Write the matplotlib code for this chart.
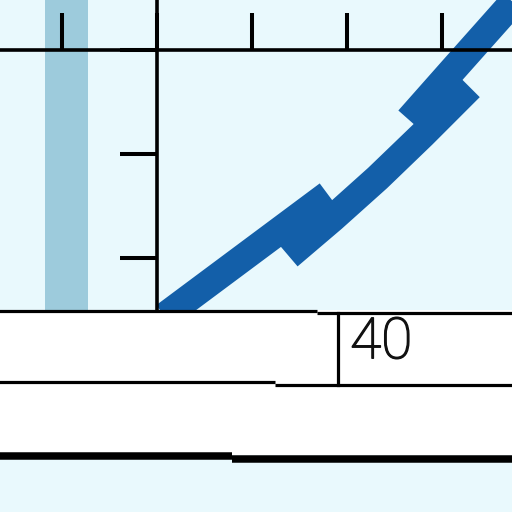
import numpy as np
from matplotlib import pyplot as plt
from matplotlib import patheffects

# colours
fondo = '#e9f9fd'
banda = '#9dcbdc'
azul = '#135fa9'

# curve pieces (the band is drawn shifted at two places)
tramoA_x = [0.8, 9.4, 18.0]
tramoA_y = [-0.6, 5.25, 11.1]
tramoC_x = [13.85, 18.48, 23.22, 27.96, 32.94]
tramoC_y = [5.21, 8.81, 12.69, 16.86, 21.41]
tramoE_x = [26.5, 31.2, 36.8, 39.3]
tramoE_y = [18.3, 23.15, 28.9, 31.5]

# light vertical band
banda_x = -9.53
banda_ancho = 4.53
banda_alto = 30.0

# ticks
xticks = [-10, 0, 10, 20, 30]
yticks = [5, 15, 25]
eje_y_nivel = 25

# table below the chart
tabla_arriba = 0.0
tabla_abajo = -13.95
tabla_lineas = [  # (x0, x1, y, width)
    (-16.6, 16.84, -0.1, 2.3),
    (16.84, 37.5, -0.29, 2.3),
    (-16.6, 12.42, -6.92, 2.3),
    (12.42, 37.5, -7.21, 2.3),
    (-16.6, 7.89, -14.04, 5.4),
    (7.89, 37.5, -14.33, 5.4),
]
tabla_col_x = 19.05
tabla_col_y = (-0.29, -7.21)
celda_texto = '40'
celda_pos = (23.6, -3.15)

fig = plt.figure(figsize=(5.12, 5.12), dpi=100)
fig.patch.set_facecolor(fondo)
ax = fig.add_axes([0, 0, 1, 1])
ax.set_facecolor(fondo)
ax.set_xlim(-16.526, 37.368)
ax.set_ylim(-19.423, 29.808)

ax.bar(banda_x, banda_alto, width=banda_ancho, bottom=0, color=banda, zorder=1)

for xs, ys in [(tramoA_x, tramoA_y), (tramoC_x, tramoC_y), (tramoE_x, tramoE_y)]:
    ax.plot(xs, ys, color=azul, lw=20, solid_capstyle='butt',
            solid_joinstyle='round', zorder=2)

# axes lines
for s in ['top', 'right']:
    ax.spines[s].set_visible(False)
ax.spines['left'].set_position(('data', 0))
ax.spines['bottom'].set_position(('data', eje_y_nivel))
ax.spines['left'].set_bounds(0, 29.808)
for s in ['left', 'bottom']:
    ax.spines[s].set_linewidth(2.6)
    ax.spines[s].set_color('black')
ax.set_xticks(xticks)
ax.set_yticks(yticks)
ax.tick_params(axis='x', direction='in', length=26.5, width=2.9, labelbottom=False)
ax.tick_params(axis='y', direction='out', length=26.5, width=2.9, labelleft=False)

# table
ax.axhspan(tabla_abajo, tabla_arriba, color='white', zorder=3, lw=0)
for x0, x1, y, w in tabla_lineas:
    ax.plot([x0, x1], [y, y], color='black', lw=w, solid_capstyle='butt', zorder=4)
ax.plot([tabla_col_x, tabla_col_x], tabla_col_y, color='black', lw=2.3, zorder=4)
ax.text(celda_pos[0], celda_pos[1], celda_texto, ha='center', va='center',
        fontsize=41, family=['Roboto', 'DejaVu Sans'], fontweight='light',
        color='#111111', zorder=5,
        path_effects=[patheffects.withStroke(linewidth=1.0, foreground='#111111')])

plt.savefig('out.png', dpi=100, facecolor=fondo)
